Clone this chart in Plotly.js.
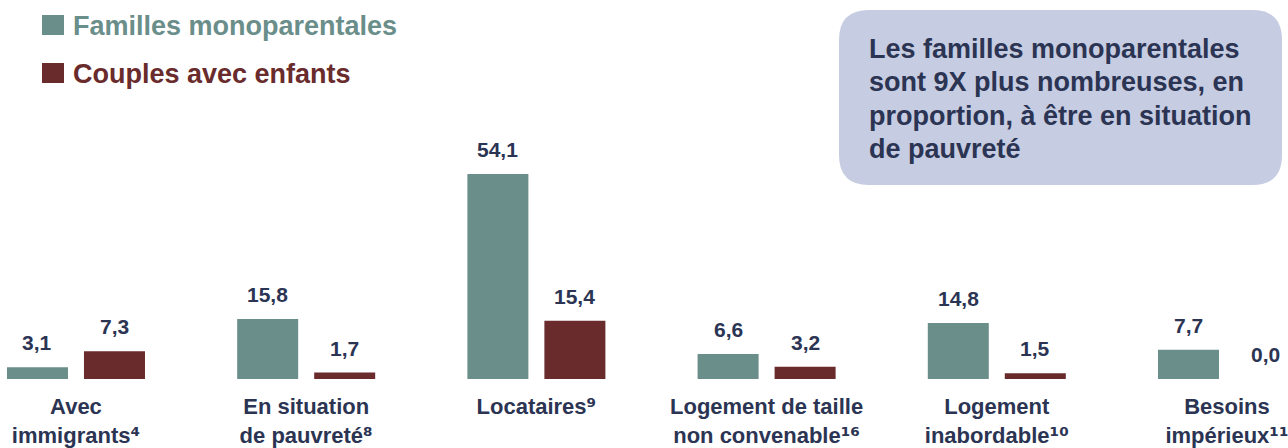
<!DOCTYPE html>
<html>
<head>
<meta charset="utf-8">
<script src="https://cdn.plot.ly/plotly-3.0.1.min.js"></script>
<style>
  html, body { margin: 0; padding: 0; background: #ffffff; }
  #chart { width: 1288px; height: 448px; }
</style>
</head>
<body>
<div id="chart"></div>
<script>
// Household categories, their footnote numbers, and the share (%) for each family type
const categories = [
  'Avec<br>immigrants',
  'En situation<br>de pauvreté',
  'Locataires',
  'Logement de taille<br>non convenable',
  'Logement<br>inabordable',
  'Besoins<br>impérieux'
];
const footnotes = ['⁴', '⁸', '⁹', '¹⁶', '¹⁰', '¹¹'];
const seriesNames = ['Familles monoparentales', 'Couples avec enfants'];
const monoparentales = [3.1, 15.8, 54.1, 6.6, 14.8, 7.7];
const couples = [7.3, 1.7, 15.4, 3.2, 1.5, 0.0];
const calloutLines = [
  'Les familles monoparentales',
  'sont 9X plus nombreuses, en',
  'proportion, à être en situation',
  'de pauvreté'
];

const W = 1288, H = 448, MB = 69;
const PLOT_H = H - MB;
const TEAL = '#6a8e8a';
const MAROON = '#692b2c';
const NAVY = '#2b3453';
const FONT = 'Liberation Sans, Arial, sans-serif';
const bold = s => '<b>' + s + '</b>';

// pixel -> paper helpers (plot area spans the full width, top margin 0)
const px = x => x / W;
const py = y => (PLOT_H - y) / PLOT_H;

const xIdx = categories.map((_, i) => i);
const BAR_W = 0.265;
const OFFSETS = [-0.2997, 0.0348];

// tick labels: category name followed by its footnote mark (one consistent superscript face)
const tickText = categories.map((c, i) =>
  bold(c + '<span style="font-family:DejaVu Sans">' + footnotes[i] + '</span>'));

const traces = [monoparentales, couples].map((vals, s) => ({
  type: 'bar',
  x: xIdx,
  y: vals,
  name: seriesNames[s],
  offset: OFFSETS[s],
  width: BAR_W,
  marker: { color: s === 0 ? TEAL : MAROON, line: { width: 0 } },
  hoverinfo: 'skip',
  showlegend: false
}));

const fmt = v => v.toFixed(1).replace('.', ',');

const annotations = [];
// value labels above each bar
[monoparentales, couples].forEach((vals, s) => {
  vals.forEach((v, i) => {
    annotations.push({
      x: i + OFFSETS[s] + BAR_W / 2,
      y: v,
      xref: 'x', yref: 'y',
      text: bold(fmt(v)),
      showarrow: false,
      xanchor: 'center', yanchor: 'bottom',
      yshift: 11,
      font: { family: FONT, size: 21, color: NAVY }
    });
  });
});

// legend entries
const legendRows = [25, 73];
const shapes = [];
seriesNames.forEach((name, s) => {
  const cy = legendRows[s];
  shapes.push({
    type: 'rect', xref: 'paper', yref: 'paper',
    x0: px(42), x1: px(64), y0: py(cy - 10), y1: py(cy + 10),
    fillcolor: s === 0 ? TEAL : MAROON, line: { width: 0 }
  });
  annotations.push({
    x: px(71), y: py(cy + 1), xref: 'paper', yref: 'paper',
    text: bold(name), showarrow: false,
    xanchor: 'left', yanchor: 'middle',
    font: { family: FONT, size: 27, color: s === 0 ? TEAL : MAROON }
  });
});

// rounded callout box
function roundedRect(x0, y0, x1, y1, r) {
  const P = (x, y) => px(x) + ',' + py(y);
  return 'M' + P(x0 + r, y0) +
    ' L' + P(x1 - r, y0) + ' Q' + P(x1, y0) + ' ' + P(x1, y0 + r) +
    ' L' + P(x1, y1 - r) + ' Q' + P(x1, y1) + ' ' + P(x1 - r, y1) +
    ' L' + P(x0 + r, y1) + ' Q' + P(x0, y1) + ' ' + P(x0, y1 - r) +
    ' L' + P(x0, y0 + r) + ' Q' + P(x0, y0) + ' ' + P(x0 + r, y0) + ' Z';
}
shapes.push({
  type: 'path', xref: 'paper', yref: 'paper',
  path: roundedRect(839, 10, 1282, 185, 30),
  fillcolor: '#c6cce1', line: { width: 0 }, layer: 'below'
});
const calloutCenters = [48, 81, 114.5, 148];
calloutLines.forEach((line, k) => {
  annotations.push({
    x: px(867), y: py(calloutCenters[k] + 1), xref: 'paper', yref: 'paper',
    text: bold(line), showarrow: false,
    xanchor: 'left', yanchor: 'middle', align: 'left',
    font: { family: FONT, size: 27, color: NAVY }
  });
});

const layout = {
  width: W, height: H,
  margin: { l: 0, r: 0, t: 0, b: MB, pad: 0 },
  paper_bgcolor: '#ffffff', plot_bgcolor: '#ffffff',
  barmode: 'overlay',
  showlegend: false,
  xaxis: {
    range: [-0.330, 5.265],
    tickvals: xIdx, ticktext: tickText,
    showgrid: false, zeroline: false, showline: false, ticks: '',
    ticklabelstandoff: 12,
    ticklabeloverflow: 'allow',
    tickfont: { family: FONT, size: 22, color: NAVY },
    fixedrange: true
  },
  yaxis: { range: [0, 100], visible: false, fixedrange: true },
  shapes: shapes,
  annotations: annotations
};

Plotly.newPlot('chart', traces, layout, { displayModeBar: false, staticPlot: true });
</script>
</body>
</html>
